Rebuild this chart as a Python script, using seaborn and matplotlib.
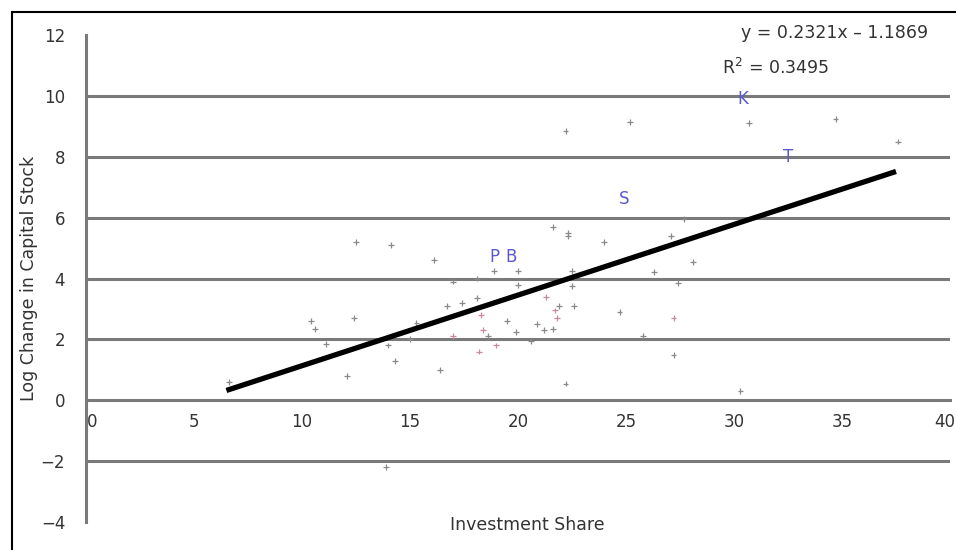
import numpy as np
import pandas as pd
import matplotlib
matplotlib.use("Agg")
import matplotlib.pyplot as plt
import matplotlib.transforms as mtransforms
import seaborn as sns
from matplotlib.patches import Rectangle

# Data
inv_share = [6.6, 10.4, 10.6, 11.1, 12.4, 12.5, 12.1, 14.1, 14.0, 14.3, 13.9, 16.1,
             15.3, 16.4, 15.0, 16.7, 17.4, 18.1, 18.3, 19.5, 18.4, 18.6, 18.2, 19.0,
             17.0, 19.9, 20.6, 20.9, 21.2, 21.3, 21.7, 21.9, 21.8, 22.6, 22.5, 22.3,
             22.3, 21.6, 18.1, 17.0, 20.0, 18.9, 20.0, 22.2, 25.2, 24.0, 27.7, 27.1,
             28.1, 26.3, 22.5, 27.4, 24.7, 27.2, 25.8, 27.2, 22.2, 21.6, 30.7, 34.7,
             37.6, 30.3]
log_change = [0.6, 2.6, 2.35, 1.85, 2.7, 5.2, 0.8, 5.1, 1.8, 1.3, -2.2, 4.6,
              2.55, 1.0, 2.0, 3.1, 3.2, 3.35, 2.8, 2.6, 2.3, 2.1, 1.6, 1.8,
              2.1, 2.25, 1.95, 2.5, 2.3, 3.4, 2.95, 3.1, 2.7, 3.1, 4.25, 5.4,
              5.5, 5.7, 4.0, 3.9, 4.25, 4.25, 3.8, 8.85, 9.15, 5.2, 5.95, 5.4,
              4.55, 4.2, 3.75, 3.85, 2.9, 2.7, 2.1, 1.5, 0.55, 2.35, 9.1, 9.25,
              8.5, 0.3]
tone = ['g'] * len(inv_share)
for i in [18, 20, 22, 23, 24, 29, 30, 32, 53]:
    tone[i] = 'p'

label_names = ['K', 'T', 'S', 'P', 'B']
label_x = [30.4, 32.5, 24.9, 18.9, 19.7]
label_y = [9.9, 8.0, 6.6, 4.7, 4.7]

slope, intercept, r2 = 0.2321, -1.1869, 0.3495

df = pd.DataFrame({'x': inv_share, 'y': log_change, 'tone': tone})

sns.set_style("white")
plt.rcParams['font.family'] = ['DejaVu Sans']

fig = plt.figure(figsize=(9.56, 5.5), dpi=100)
W, H = 956, 550
ax = fig.add_axes([86 / W, 1 - 522 / H, (950 - 86) / W, (522 - 35) / H])

grey = '#7a7a7a'
txt = '#333333'
sns.scatterplot(data=df, x='x', y='y', hue='tone', palette={'g': '#8a8a8a', 'p': '#c98a9a'},
                marker='+', s=18, linewidth=0.9, legend=False, ax=ax)

for name, lx, ly in zip(label_names, label_x, label_y):
    ax.text(lx, ly, name, color='#5a5acc', fontsize=12, ha='center', va='center')

# trend line
xs = np.array([min(inv_share) - 0.1, max(inv_share) - 0.1])
ax.plot(xs, slope * xs + intercept, color='black', lw=3.8, solid_capstyle='butt', zorder=5)

for s in ['top', 'right']:
    ax.spines[s].set_visible(False)
ax.spines['bottom'].set_position(('data', 0))
ax.spines['bottom'].set_color(grey)
ax.spines['bottom'].set_linewidth(2.2)
ax.spines['left'].set_color(grey)
ax.spines['left'].set_linewidth(2.2)

ax.set_xlim(0, 40)
ax.set_ylim(-4, 12)
ax.set_xticks(range(0, 41, 5))
ax.set_yticks(range(-4, 13, 2))
ax.set_yticklabels([str(v).replace('-', '\u2212') for v in range(-4, 13, 2)])
ax.tick_params(axis='y', direction='out', length=6, width=1.5, color=grey, pad=9,
               labelsize=12, labelcolor=txt)
ax.tick_params(axis='x', direction='inout', length=7, width=1.5, color=grey, pad=6,
               labelsize=12, labelcolor=txt)

# first x label nudged off the axis, last one sits at the right edge
first = ax.get_xticklabels()[0]
first.set_transform(first.get_transform() + mtransforms.ScaledTranslation(6 / 100, 0, fig.dpi_scale_trans))
last = ax.get_xticklabels()[-1]
last.set_ha('right')
last.set_transform(last.get_transform() + mtransforms.ScaledTranslation(5 / 100, 0, fig.dpi_scale_trans))

ax.yaxis.grid(True, color=grey, lw=2.2)
gl = ax.yaxis.get_gridlines()
gl[0].set_visible(False)
gl[-1].set_visible(False)
gl[2].set_visible(False)

ax.set_xlabel('')
ax.set_ylabel('Log Change in Capital Stock', fontsize=12.5, color=txt, va='center')
ax.yaxis.set_label_coords((29 - 86) / 864, 0.5)

fig.text(527 / W, 1 - 525 / H, 'Investment Share', fontsize=12.5, ha='center', va='center', color=txt)
fig.text(835 / W, 1 - 33 / H, f'y = {slope}x \u2013 {abs(intercept)}', fontsize=12.5,
         ha='center', va='center', color=txt)
fig.text(722 / W, 1 - 68 / H, f'R$^2$ = {r2}', fontsize=12.5, ha='left', va='center', color=txt)

fig.patches.append(Rectangle((12 / W, -0.1), 1.0, 1 - 12 / H + 0.1, transform=fig.transFigure,
                             fill=False, edgecolor='black', lw=1.5))

fig.savefig('out.png', dpi=100)
